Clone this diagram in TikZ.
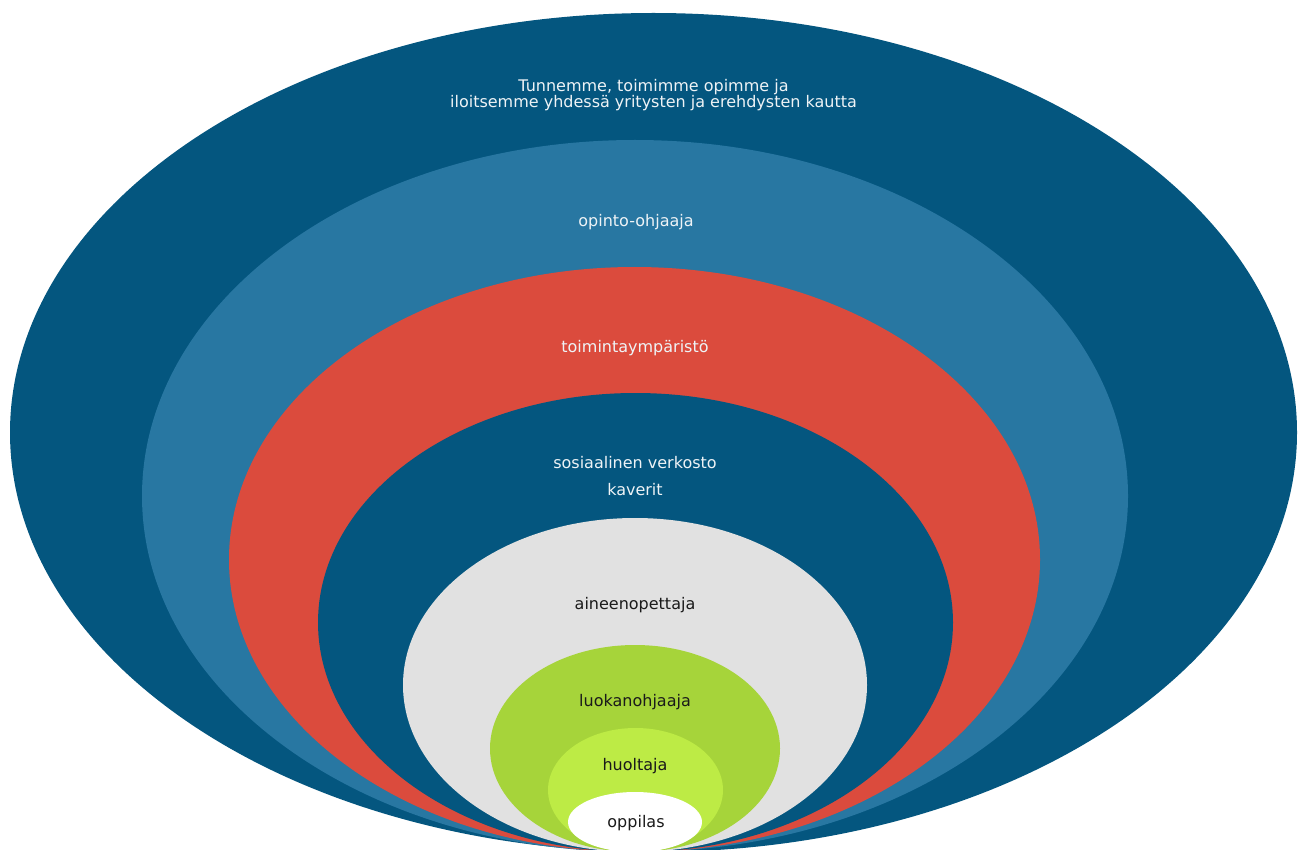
\documentclass[tikz,border=0pt]{standalone}
\usepackage{fontspec}
\setmainfont{DejaVu Sans}
\definecolor{darkblue}{HTML}{04567F}
\definecolor{midblue}{HTML}{2877A2}
\definecolor{redc}{HTML}{DB4B3D}
\definecolor{greyc}{HTML}{E1E1E1}
\definecolor{greenc}{HTML}{A6D43A}
\definecolor{lightgreen}{HTML}{BDEB45}
\definecolor{lighttext}{HTML}{EEF3F6}
\definecolor{darktext}{HTML}{1A1A1A}
\tikzset{
  lbl/.style={inner sep=0pt, align=center, font=\fontsize{16}{18}\selectfont},
  lightlbl/.style={lbl, text=lighttext},
  darklbl/.style={lbl, text=darktext},
}
\begin{document}
\begin{tikzpicture}[x=1pt,y=-1pt]
\useasboundingbox (0,0) rectangle (1303,850);
\clip (0,0) rectangle (1303,850);
\fill[white] (0,0) rectangle (1303,850);
\fill[darkblue]   (653.5,432.5) ellipse [x radius=643.5, y radius=419.5];
\fill[midblue]    (635,496)     ellipse [x radius=493, y radius=356];
\fill[redc]       (634.5,559.5) ellipse [x radius=405.5, y radius=292.5];
\fill[darkblue]   (635.5,622.5) ellipse [x radius=317.5, y radius=229.5];
\fill[greyc]      (635,685)     ellipse [x radius=232, y radius=167];
\fill[greenc]     (635,748.5)   ellipse [x radius=145, y radius=103.5];
\fill[lightgreen] (635.5,790)   ellipse [x radius=87.5, y radius=62];
\fill[white]      (635,822)     ellipse [x radius=67, y radius=30];

\node[lightlbl, font=\fontsize{16}{15}\selectfont] (title) at (653.5,95)
  {Tunnemme, toimimme opimme ja\\iloitsemme yhdessä yritysten ja erehdysten kautta};
\node[lightlbl] (opo) at (636,222) {opinto-ohjaaja};
\node[lightlbl] (ymp) at (635,348) {toimintaympäristö};
\node[lightlbl] (sos) at (635,463) {sosiaalinen verkosto};
\node[lightlbl] (kav) at (635,490) {kaverit};
\node[darklbl] (aine) at (635,605) {aineenopettaja};
\node[darklbl] (luok) at (635,702) {luokanohjaaja};
\node[darklbl] (huol) at (635,766) {huoltaja};
\node[darklbl] (opp) at (636,823) {oppilas};
\end{tikzpicture}
\end{document}
